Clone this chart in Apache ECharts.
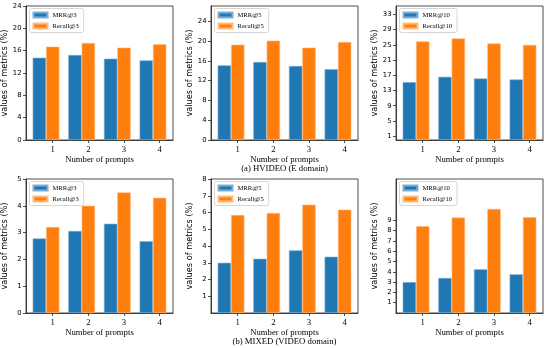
<!DOCTYPE html>
<html>
<head>
<meta charset="utf-8">
<script src="https://cdn.jsdelivr.net/npm/echarts@6/dist/echarts.min.js"></script>
<style>
  html, body { margin: 0; padding: 0; background: #fff; }
  #myChart { width: 545px; height: 348px; }
</style>
</head>
<body>
<div id="myChart"></div>
<script>
  let prompts = [1, 2, 3, 4];

  // (a) HVIDEO (E domain)
  let hvMrr3 = [14.74, 15.22, 14.56, 14.26];
  let hvRecall3 = [16.72, 17.38, 16.54, 17.14];
  let hvMrr5 = [15.1, 15.78, 14.97, 14.3];
  let hvRecall5 = [19.28, 20.1, 18.68, 19.82];
  let hvMrr10 = [15.2, 16.6, 16.16, 15.9];
  let hvRecall10 = [25.9, 26.68, 25.36, 25.0];

  // (b) MIXED (VIDEO domain)
  let mxMrr3 = [2.78, 3.06, 3.33, 2.68];
  let mxRecall3 = [3.21, 4.0, 4.5, 4.3];
  let mxMrr5 = [3.0, 3.24, 3.74, 3.36];
  let mxRecall5 = [5.85, 5.97, 6.47, 6.17];
  let mxMrr10 = [3.0, 3.4, 4.24, 3.75];
  let mxRecall10 = [8.42, 9.26, 10.1, 9.29];

  let yTicks = [
    [0, 4, 8, 12, 16, 20, 24],
    [0, 4, 8, 12, 16, 20, 24],
    [1, 5, 9, 13, 17, 21, 25, 29, 33],
    [0, 1, 2, 3, 4, 5],
    [1, 2, 3, 4, 5, 6, 7, 8],
    [1, 2, 3, 4, 5, 6, 7, 8, 9]
  ];
  let yMax = [24, 27.1, 35.2, 5, 8, 13];
  let captions = ['(a) HVIDEO (E domain)', '(b) MIXED (VIDEO domain)'];

  let panels = [
    {mrr: hvMrr3, recall: hvRecall3, k: 3},
    {mrr: hvMrr5, recall: hvRecall5, k: 5},
    {mrr: hvMrr10, recall: hvRecall10, k: 10},
    {mrr: mxMrr3, recall: mxRecall3, k: 3},
    {mrr: mxMrr5, recall: mxRecall5, k: 5},
    {mrr: mxMrr10, recall: mxRecall10, k: 10}
  ];

  let serif = 'Liberation Serif';
  let sans = 'DejaVu Sans';
  let ink = '#222';
  let lefts = [26, 211, 396];
  let tops = [6, 179];
  let plotW = 147;
  let plotH = 134;
  let barW = 0.375;
  let xMin = 0.25, xMax = 4.375;

  let myChart = echarts.init(document.getElementById('myChart'), null, {renderer: 'canvas'});

  let grid = [], xAxis = [], yAxis = [], series = [], legend = [], graphic = [];

  panels.forEach((p, i) => {
    let col = i % 3, row = Math.floor(i / 3);
    let mrrName = 'MRR@' + p.k;
    let recallName = 'Recall@' + p.k;

    grid.push({
      left: lefts[col], top: tops[row], width: plotW, height: plotH,
      show: true, borderColor: ink, borderWidth: 0.8,
      outerBoundsMode: 'none'
    });

    // visible axis: ticks sit on the Recall bars
    xAxis.push({
      type: 'value', gridIndex: i, min: xMin, max: xMax,
      axisLine: {show: true, onZero: false, lineStyle: {color: ink, width: 0.8}},
      axisTick: {show: true, length: 3, customValues: prompts, lineStyle: {color: ink, width: 0.8}},
      axisLabel: {customValues: prompts, margin: 5, fontFamily: serif, fontSize: 8.7, color: '#000'},
      splitLine: {show: false},
      name: 'Number of prompts', nameLocation: 'middle', nameGap: 14.5,
      nameTextStyle: {fontFamily: serif, fontSize: 8.7, color: '#000'}
    });
    // hidden axis shifted by one bar width for the MRR bars
    xAxis.push({
      type: 'value', gridIndex: i, min: xMin + barW, max: xMax + barW, show: false
    });

    yAxis.push({
      type: 'value', gridIndex: i, min: 0, max: yMax[i],
      axisLine: {show: true, lineStyle: {color: ink, width: 0.8}},
      axisTick: {show: true, length: 3, customValues: yTicks[i], lineStyle: {color: ink, width: 0.8}},
      axisLabel: {customValues: yTicks[i], margin: 4.5, fontFamily: sans, fontSize: 6.8, color: '#000'},
      splitLine: {show: false},
      name: 'values of metrics (%)', nameLocation: 'middle', nameGap: 17.5, nameRotate: 90,
      nameTextStyle: {fontFamily: sans, fontSize: 8.2, color: '#000'}
    });

    series.push({
      type: 'bar', name: mrrName, xAxisIndex: 2 * i + 1, yAxisIndex: i,
      barWidth: '37.5%',
      itemStyle: {color: '#1f77b4', borderColor: '#7fb0d4', borderWidth: 0.6},
      data: prompts.map((x, k) => [x, p.mrr[k]])
    });
    series.push({
      type: 'bar', name: recallName, xAxisIndex: 2 * i, yAxisIndex: i,
      barWidth: '37.5%',
      itemStyle: {color: '#ff7f0e', borderColor: '#ffbb80', borderWidth: 0.6},
      data: prompts.map((x, k) => [x, p.recall[k]])
    });

    legend.push({
      orient: 'vertical', left: lefts[col] + 3.5, top: tops[row] + 2.5,
      data: [mrrName, recallName],
      icon: 'rect', itemWidth: 14, itemHeight: 5, itemGap: 4,
      padding: [3, 5, 3, 3],
      borderColor: '#cccccc', borderWidth: 0.8, borderRadius: 2,
      backgroundColor: 'rgba(255,255,255,0.8)',
      selectedMode: false,
      textStyle: {fontFamily: serif, fontSize: 6.6, color: '#000'}
    });
  });

  captions.forEach((c, r) => {
    graphic.push({
      type: 'text', x: lefts[1] + plotW / 2, y: tops[r] + plotH + 29,
      style: {text: c, align: 'center', verticalAlign: 'middle', font: '8.7px "Liberation Serif"', fill: '#000'}
    });
  });

  myChart.setOption({
    animation: false,
    grid: grid,
    xAxis: xAxis,
    yAxis: yAxis,
    legend: legend,
    graphic: graphic,
    series: series
  });
</script>
</body>
</html>
